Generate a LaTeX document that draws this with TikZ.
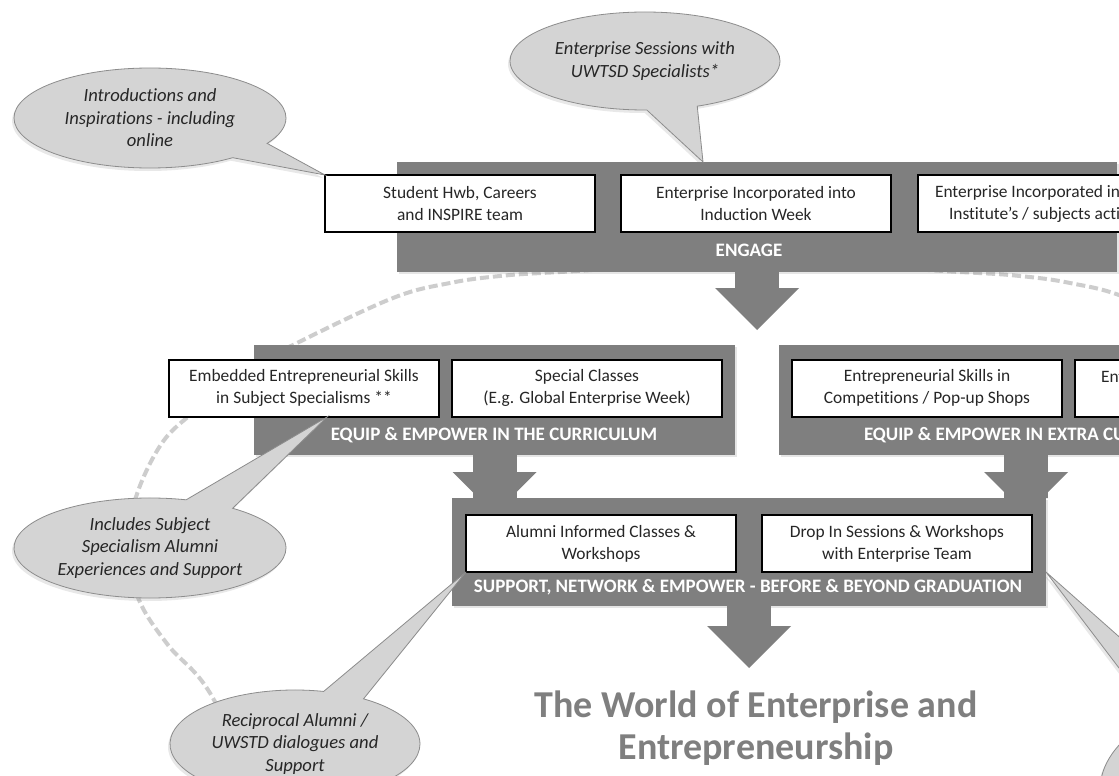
\documentclass[tikz,border=0pt]{standalone}
\usepackage{fontspec}
\setmainfont{Carlito}[Ligatures=NoCommon]
\usepackage{xcolor}
\definecolor{bargray}{HTML}{7F7F7F}
\definecolor{bubble}{HTML}{D4D4D4}
\definecolor{bubbleline}{HTML}{8C8C8C}
\definecolor{ringgray}{HTML}{CDCDCD}
\definecolor{ink}{HTML}{262626}
\usepackage{tikz}
\usetikzlibrary{positioning,arrows.meta,shapes.callouts,shadows,calc}

\begin{document}
\begin{tikzpicture}
		[x=1pt,y=-1pt,
		every node/.style={inner sep=0pt,outer sep=0pt},
		bar/.style={rectangle,fill=bargray,drop shadow={opacity=.2,shadow xshift=2pt,shadow yshift=-2pt}},
		boxtext/.style={align=center,text=ink,font=\fontsize{17.4}{22}\selectfont},
		box/.style={boxtext,rectangle,draw=black,fill=white,line width=2pt,minimum width=270pt,minimum height=57pt},
		barlabel/.style={text=white,font=\bfseries\fontsize{19}{22}\selectfont},
		title/.style={align=center,text=bargray,font=\bfseries\fontsize{38}{42}\selectfont},
		bubble/.style={ellipse callout,draw=bubbleline,fill=bubble,line width=.8pt,align=center,text=ink,
			font=\itshape\fontsize{18.6}{22.5}\selectfont,callout pointer arc=22,
			drop shadow={opacity=.18,shadow xshift=-2pt,shadow yshift=-3pt}},
		bigarrow/.style={draw=bargray,line width=44pt,-{Triangle[width=84pt,length=42pt,line width=0pt]}},
		ring/.style={draw=ringgray,line width=4pt,dash pattern=on 9pt off 4pt}]
		\useasboundingbox (0,0) rectangle (1119,776);
		\fill[white] (0,0) rectangle (1119,776);
		\clip (0,0) rectangle (1119,776);
		\draw[ring] plot[smooth,tension=.6] coordinates {(262,800) (210,693) (168,645) (139,600) (128,550) (136,497)
			(162,443) (196,410) (240,374) (297,343) (393,298) (450,283) (500,276) (560,272) (760,262)
			(960,272) (1020,276) (1070,283) (1127,298) (1223,343)};
		\node[bar,minimum width=720pt,minimum height=110pt] (engage) at (757,217) {};
		\node[bar,minimum width=481pt,minimum height=110pt] (curr) at (494.5,400) {};
		\node[bar,minimum width=494pt,minimum height=110pt] (extra) at (1026,400) {};
		\node[bar,minimum width=594pt,minimum height=108pt] (support) at (749,552) {};
		\coordinate (split) at (757,330);
		\coordinate (world top) at (749,668);
		\draw[bigarrow] (engage.south) -- (split);
		\draw[bigarrow] (curr.south) -- (curr.south |- support.north) -- ++(0,16);
		\draw[bigarrow] (extra.south) -- (extra.south |- support.north) -- ++(0,16);
		\draw[bigarrow] (support.south) -- (world top);
		\node[box] (hwb) at (460,203.5) {Student Hwb, Careers\\and INSPIRE team};
		\node[box] (induct) at (756,203.5) {Enterprise Incorporated into\\Induction Week};
		\node[box] (inst) at (1053,203.5) {};
		\node[boxtext,anchor=west,align=left] (insttxt) at (935,203.5) {Enterprise Incorporated in\\\hspace*{14pt}Institute’s / subjects acti};
		\node[box] (embed) at (304,388) {Embedded Entrepreneurial Skills\\in Subject Specialisms **};
		\node[box] (special) at (587,388) {Special Classes\\(E.g. Global Enterprise Week)};
		\node[box] (comp) at (927,388) {Entrepreneurial Skills in\\Competitions / Pop-up Shops};
		\node[box] (entbox) at (1210,388) {};
		\node[boxtext,anchor=west] (enttxt) at (1101,377) {Ent};
		\node[box] (alumni) at (601,543.5) {Alumni Informed Classes \&\\Workshops};
		\node[box] (dropin) at (897,543.5) {Drop In Sessions \& Workshops\\with Enterprise Team};
		\node[barlabel] (engagelbl) at (749,250) {ENGAGE};
		\node[barlabel] (currlbl) at (494,435) {EQUIP \& EMPOWER IN THE CURRICULUM};
		\node[barlabel,anchor=west] (extralbl) at (864,435) {EQUIP \& EMPOWER IN EXTRA CU};
		\node[barlabel] (supportlbl) at (748,587) {SUPPORT, NETWORK \& EMPOWER - BEFORE \& BEYOND GRADUATION};
		\node[title] (world) at (756,728) {The World of Enterprise and\\Entrepreneurship};
		\coordinate (tip sessions) at (703,162);
		\coordinate (tip embed) at (327,417);
		\coordinate (tip drop) at (support.east |- dropin.south);
		\node[bubble,minimum width=272pt,minimum height=100pt,callout absolute pointer={(hwb.north west)}] (intro) at (150,118)
			{Introductions and\\Inspirations - including\\online};
		\node[bubble,minimum width=270pt,minimum height=98pt,callout absolute pointer={(tip sessions)}] (sessions) at (645,61)
			{Enterprise Sessions with\\UWTSD Specialists*};
		\node[bubble,minimum width=272pt,minimum height=100pt,callout absolute pointer={(tip embed)}] (includes) at (150,548)
			{Includes Subject\\Specialism Alumni\\Experiences and Support};
		\node[bubble,minimum width=250pt,minimum height=108pt,callout pointer arc=20,callout absolute pointer={(alumni.south west)}] (reciprocal) at (295,744)
			{Reciprocal Alumni /\\UWSTD dialogues and\\Support};
		\node[bubble,minimum width=300pt,minimum height=184pt,callout pointer arc=17,callout absolute pointer={(tip drop)}] (further) at (1250,790) {};
	\end{tikzpicture}
\end{document}
